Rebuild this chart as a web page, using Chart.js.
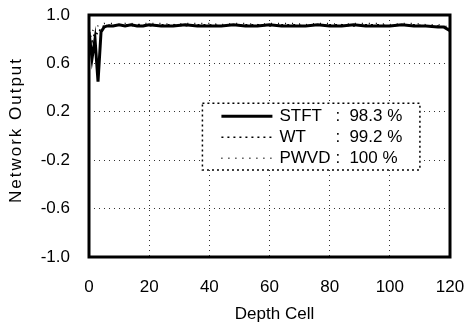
<!DOCTYPE html>
<html>
<head>
<meta charset="utf-8">
<script src="https://cdn.jsdelivr.net/npm/chart.js@4"></script>
<style>
  html, body { margin: 0; padding: 0; background: #fff; }
  #wrap { width: 464px; height: 327px; }
</style>
</head>
<body>
<div id="wrap"><canvas id="grafica" width="464" height="327"></canvas></div>
<script>
const depth = [0, 1, 2, 3, 4, 5, 6, 8, 10, 12, 14, 16, 18, 20, 24, 28, 32, 36, 40, 44, 48, 52, 56, 60,
               64, 68, 72, 76, 80, 84, 88, 92, 96, 100, 104, 108, 112, 116, 118, 120];
const stft = [0.86, 0.64, 0.80, 0.45, 0.86, 0.90, 0.91, 0.91, 0.92, 0.91, 0.92, 0.91, 0.91, 0.92, 0.91, 0.91,
              0.92, 0.91, 0.91, 0.91, 0.92, 0.91, 0.91, 0.92, 0.91, 0.91, 0.91, 0.92, 0.91, 0.91, 0.92, 0.91,
              0.91, 0.91, 0.92, 0.91, 0.91, 0.90, 0.90, 0.87];
const wt = [0.88, 0.78, 0.86, 0.84, 0.90, 0.91, 0.92, 0.91, 0.92, 0.92, 0.91, 0.92, 0.92, 0.91, 0.92, 0.92,
            0.91, 0.92, 0.92, 0.91, 0.92, 0.92, 0.92, 0.91, 0.92, 0.92, 0.91, 0.92, 0.92, 0.92, 0.91, 0.92,
            0.92, 0.91, 0.92, 0.92, 0.91, 0.91, 0.90, 0.89];
const pwvd = [0.90, 0.86, 0.90, 0.91, 0.92, 0.93, 0.93, 0.93, 0.92, 0.93, 0.93, 0.92, 0.93, 0.93, 0.93, 0.92,
              0.93, 0.93, 0.93, 0.92, 0.93, 0.93, 0.92, 0.93, 0.93, 0.93, 0.92, 0.93, 0.93, 0.92, 0.93, 0.93,
              0.93, 0.92, 0.93, 0.93, 0.92, 0.92, 0.91, 0.90];
const seriesNames = ['STFT', 'WT', 'PWVD'];
const seriesScores = ['98.3 %', '99.2 %', '100 %'];
const yTicks = [-1.0, -0.6, -0.2, 0.2, 0.6, 1.0];
const xTicks = [0, 20, 40, 60, 80, 100, 120];
const xTitle = 'Depth Cell';
const yTitle = 'Network Output';

const FONT = "'Liberation Sans', Arial, sans-serif";
const toPoints = vals => vals.map((v, i) => ({ x: depth[i], y: v }));

// marco grueso, títulos y leyenda punteada dentro del área
const framePlugin = {
    id: 'frame',
    afterDatasetsDraw(chart) {
        const { ctx, chartArea: a } = chart;
        ctx.save();
        ctx.strokeStyle = '#000';
        ctx.lineWidth = 3;
        ctx.setLineDash([]);
        ctx.strokeRect(a.left, a.top, a.right - a.left, a.bottom - a.top);

        // títulos de ejes
        ctx.fillStyle = '#000';
        ctx.font = '17px ' + FONT;
        ctx.textAlign = 'center';
        ctx.textBaseline = 'middle';
        ctx.fillText(xTitle, (a.left + a.right) / 2 + 5, 314);
        ctx.save();
        ctx.translate(16, 130);
        ctx.rotate(-Math.PI / 2);
        ctx.letterSpacing = '2px';
        ctx.fillText(yTitle, 0, 0);
        ctx.restore();

        const xs = chart.scales.x, ys = chart.scales.y;
        const bx = xs.getPixelForValue(37.7), by = ys.getPixelForValue(0.27);
        const bw = xs.getPixelForValue(110) - bx, bh = ys.getPixelForValue(-0.28) - by;
        ctx.fillStyle = '#fff';
        ctx.fillRect(bx, by, bw, bh);
        ctx.lineWidth = 1.5;
        ctx.setLineDash([2, 3]);
        ctx.strokeRect(bx, by, bw, bh);

        ctx.font = '17px ' + FONT;
        ctx.textBaseline = 'middle';
        ctx.textAlign = 'left';
        ctx.fillStyle = '#000';
        chart.data.datasets.forEach((ds, i) => {
            const ly = by + 13 + i * 21;
            ctx.strokeStyle = '#000';
            ctx.lineWidth = ds.borderWidth;
            ctx.setLineDash(ds.borderDash || []);
            ctx.beginPath();
            ctx.moveTo(bx + 19, ly);
            ctx.lineTo(bx + 70, ly);
            ctx.stroke();
            ctx.fillText(seriesNames[i], bx + 77, ly);
            ctx.fillText(':', bx + 133, ly);
            ctx.fillText(seriesScores[i], bx + 147, ly);
        });
        ctx.restore();
    }
};

new Chart(document.getElementById('grafica').getContext('2d'), {
    type: 'line',
    data: {
        datasets: [
            { label: seriesNames[0], data: toPoints(stft), borderColor: '#000', borderWidth: 3, pointRadius: 0, tension: 0 },
            { label: seriesNames[1], data: toPoints(wt), borderColor: '#000', borderWidth: 1.5, borderDash: [2, 4], pointRadius: 0, tension: 0 },
            { label: seriesNames[2], data: toPoints(pwvd), borderColor: '#000', borderWidth: 1.5, borderDash: [1, 6], pointRadius: 0, tension: 0 }
        ]
    },
    options: {
        responsive: false,
        animation: false,
        layout: { padding: { top: 15, right: 14, left: 0, bottom: 0 } },
        plugins: { legend: { display: false }, tooltip: { enabled: false } },
        scales: {
            x: {
                type: 'linear',
                min: 0, max: 120,
                afterFit: s => { s.height = 70; s.paddingLeft = 0; s.paddingRight = 0; },
                afterBuildTicks: s => { s.ticks = xTicks.map(v => ({ value: v })); },
                ticks: { color: '#000', font: { family: FONT, size: 17 }, padding: 20, maxRotation: 0 },
                grid: { color: '#333', lineWidth: 1, drawTicks: false },
                border: { display: false, dash: [1, 4] }
            },
            y: {
                min: -1, max: 1,
                afterFit: s => { s.width = 89; s.paddingTop = 0; s.paddingBottom = 0; },
                afterBuildTicks: s => { s.ticks = yTicks.map(v => ({ value: v })); },
                ticks: { color: '#000', font: { family: FONT, size: 17 }, padding: 19, callback: v => v.toFixed(1) },
                grid: { color: '#333', lineWidth: 1, drawTicks: false },
                border: { display: false, dash: [1, 4] }
            }
        }
    },
    plugins: [framePlugin]
});
</script>
</body>
</html>
